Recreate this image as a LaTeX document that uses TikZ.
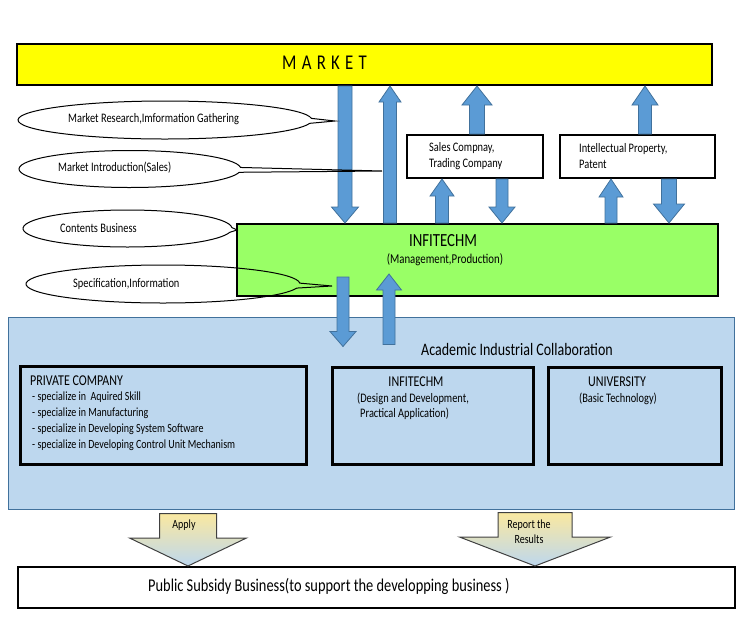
\documentclass[tikz,border=0pt]{standalone}
\usepackage{fontspec}
\setmainfont{Carlito}[FakeStretch=0.8]
\newfontfamily\mktfont{Carlito}[FakeStretch=0.8,LetterSpace=25]
\usetikzlibrary{calc,shapes.callouts}
\definecolor{mktyellow}{HTML}{FFFF00}
\definecolor{infigreen}{HTML}{99FF66}
\definecolor{collblue}{HTML}{BDD7EE}
\definecolor{collline}{HTML}{41719C}
\definecolor{arrblue}{HTML}{5B9BD5}
\definecolor{arrline}{HTML}{41719C}
\definecolor{grdtop}{HTML}{FAE8A0}
\definecolor{grdbot}{HTML}{BDD7EE}
\newcommand{\blockarr}[6]{\path[#1] let \p1=(#2),\p2=(#3),\p3=($(#3)!#6pt!(#2)$) in (\x1-#4pt,\y1)--(\x1-#4pt,\y3)--(\x1-#5pt,\y3)--(\x1,\y2)--(\x1+#5pt,\y3)--(\x1+#4pt,\y3)--(\x1+#4pt,\y1)--cycle;}
\begin{document}
\begin{tikzpicture}[x=1pt,y=-1pt,
box/.style={draw,line width=2pt,inner sep=0pt},
thickbox/.style={draw,line width=3pt,inner sep=0pt},
bubble/.style={ellipse callout,draw,line width=1pt,inner sep=0pt},
blkarr/.style={fill=arrblue,draw=arrline,line width=0.8pt},
gradarr/.style={top color=grdtop,bottom color=grdbot,draw=black!75,line width=1pt},
txt/.style={inner sep=0pt,font=\fontsize{13}{15.5}\selectfont}]
\useasboundingbox (0,0) rectangle (740,625);
\foreach \n/\x in {a/345,b/390,c/477,d/645,e/442,f/502,g/611,h/669,i/343,j/389,k/188,l/535}
  \coordinate (x\n) at (\x,0);
\node[draw=collline,fill=collblue,line width=1pt,minimum width=726pt,minimum height=192pt] (coll) at (371,413) {};
\node[box,fill=mktyellow,minimum width=695pt,minimum height=41pt] (mkt) at (364.5,64.5) {};
\node[box,fill=infigreen,minimum width=481pt,minimum height=72pt] (infi) at (477.5,260) {};
\node[box,minimum width=136pt,minimum height=43pt] (sales) at (475,156.5) {};
\node[box,minimum width=155pt,minimum height=43pt] (ip) at (637.5,156.5) {};
\node[thickbox,minimum width=286pt,minimum height=98pt] (priv) at (163,415) {};
\node[thickbox,minimum width=201pt,minimum height=97pt] (dev) at (432.5,415.5) {};
\node[thickbox,minimum width=173pt,minimum height=97pt] (univ) at (634.5,415.5) {};
\node[box,minimum width=717pt,minimum height=41pt] (pub) at (376.5,587.5) {};
\coordinate (itail) at ($(infi.south -| xi)+(0,-20)$);
\coordinate (itip) at ($(coll.north -| xi)+(0,30)$);
\coordinate (jtail) at ($(coll.north -| xj)+(0,28)$);
\coordinate (jtip) at ($(infi.south -| xj)+(0,-23)$);
\coordinate (aptail) at ($(coll.south -| xk)+(0,4)$);
\coordinate (rptail) at ($(coll.south -| xl)+(0,3)$);
\blockarr{blkarr}{mkt.south -| xa}{infi.north -| xa}{7}{13.5}{16}
\blockarr{blkarr}{infi.north -| xb}{mkt.south -| xb}{6.5}{11}{16}
\blockarr{blkarr}{sales.north -| xc}{mkt.south -| xc}{7.5}{15}{19}
\blockarr{blkarr}{ip.north -| xd}{mkt.south -| xd}{6.5}{13}{19}
\blockarr{blkarr}{infi.north -| xe}{sales.south -| xe}{6.5}{12}{17}
\blockarr{blkarr}{sales.south -| xf}{infi.north -| xf}{6}{13}{16}
\blockarr{blkarr}{infi.north -| xg}{ip.south -| xg}{6}{12}{18}
\blockarr{blkarr}{ip.south -| xh}{infi.north -| xh}{7.5}{15.5}{19}
\blockarr{blkarr}{itail}{itip}{6}{13}{15}
\blockarr{blkarr}{jtail}{jtip}{6}{12.5}{16}
\blockarr{gradarr}{aptail}{pub.north -| xk}{28.5}{58.5}{28}
\blockarr{gradarr}{rptail}{pub.north -| xl}{37}{75.5}{29}
\node[bubble,minimum width=294pt,minimum height=38pt,callout absolute pointer={(335,121)}] (research) at (165,120) {};
\node[bubble,minimum width=222pt,minimum height=37pt,callout absolute pointer={(382,171)}] (intro) at (130,169) {};
\node[bubble,minimum width=209pt,minimum height=37pt,callout absolute pointer={(237,230)}] (contents) at (127.5,228.5) {};
\node[bubble,minimum width=274pt,minimum height=38pt,callout absolute pointer={(332,286)}] (spec) at (163,284) {};
\node[txt,anchor=west] (researchtext) at (68,119) {Market Research,Imformation Gathering};
\node[txt,anchor=west] (introtext) at (58,168) {Market Introduction(Sales)};
\node[txt,anchor=west] (contentstext) at (60,228) {Contents Business};
\node[txt,anchor=west] (spectext) at (73,284) {Specification,Information};
\node[anchor=west,inner sep=0pt,font=\mktfont\fontsize{21}{25}\selectfont] (mkttext) at (282,62.5) {MARKET};
\node[inner sep=0pt,font=\fontsize{18.5}{22}\selectfont] (infitext) at (443,241) {INFITECHM};
\node[txt,font=\fontsize{13.5}{16}\selectfont] (infisub) at (445,260) {(Management,Production)};
\node[txt,anchor=west,align=left] (salestext) at (429,156) {Sales Compnay,\\Trading Company};
\node[txt,anchor=west,align=left] (iptext) at (579,156) {Intellectual Property,\\Patent};
\node[inner sep=0pt,font=\fontsize{17.5}{21}\selectfont] (colltext) at (517,349) {Academic Industrial Collaboration};
\node[inner sep=0pt,anchor=west,font=\fontsize{15}{18}\selectfont] (privtitle) at (30,381) {PRIVATE COMPANY};
\foreach \t [count=\i] in {{- specialize in\ \ Aquired Skill},{- specialize in Manufacturing},{- specialize in Developing System Software},{- specialize in Developing Control Unit Mechanism}}
  \node[txt,anchor=west,font=\fontsize{12.5}{15}\selectfont] (item\i) at (32,{381+16*\i}) {\t};
\node[inner sep=0pt,font=\fontsize{15}{18}\selectfont] (devtitle) at (416,382) {INFITECHM};
\node[txt,anchor=west,align=left] (devtext) at (357,406.5) {(Design and Development,\\\hspace{3pt}Practical Application)};
\node[inner sep=0pt,font=\fontsize{15}{18}\selectfont] (univtitle) at (617,382) {UNIVERSITY};
\node[txt] (univtext) at (618,399) {(Basic Technology)};
\node[txt,font=\fontsize{12.5}{15}\selectfont] (applytext) at (184,525) {Apply};
\node[txt,align=center,font=\fontsize{12.5}{15}\selectfont] (reporttext) at (529,531.5) {Report the\\Results};
\node[anchor=west,inner sep=0pt,font=\fontsize{18}{21}\selectfont] (pubtext) at (148,586) {Public Subsidy Business(to support the developping business )};
\end{tikzpicture}
\end{document}
